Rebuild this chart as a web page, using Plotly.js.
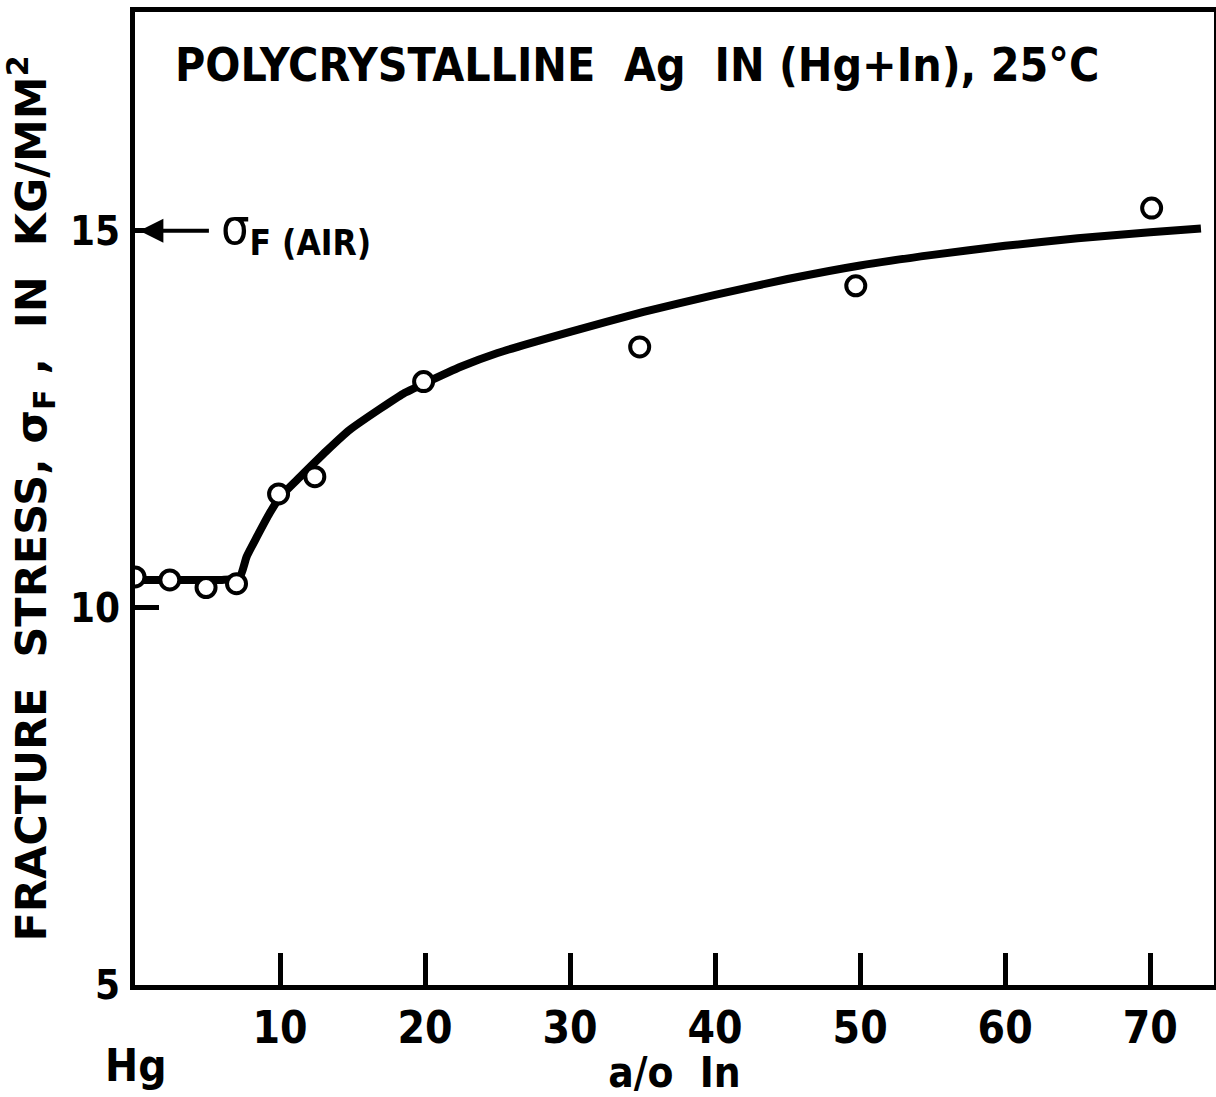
<!DOCTYPE html>
<html>
<head>
<meta charset="utf-8">
<script src="https://cdn.plot.ly/plotly-3.0.1.min.js"></script>
<style>html,body{margin:0;padding:0;background:#fff;}#chart{width:1216px;height:1097px;}</style>
</head>
<body>
<div id="chart"></div>
<script>
// Measured points: a/o In vs fracture stress (kg/mm^2)
const pointX = [0, 2.4, 4.9, 7.0, 9.9, 12.4, 19.9, 34.8, 49.7, 70.1];
const pointY = [10.41, 10.37, 10.27, 10.32, 11.51, 11.74, 13.0, 13.46, 14.27, 15.30];

// Drawn trend curve
const curveX = [0, 3, 6, 7.2, 7.7, 8.4, 9.3, 10.0, 11.4, 13.2, 14.8, 16.9, 18.5, 20, 22.5, 25, 30, 35, 40, 45, 50, 55, 60, 65, 70, 73.5];
const curveY = [10.37, 10.37, 10.37, 10.40, 10.68, 10.94, 11.26, 11.47, 11.74, 12.08, 12.36, 12.64, 12.84, 12.98, 13.20, 13.38, 13.66, 13.92, 14.15, 14.36, 14.54, 14.68, 14.80, 14.90, 14.98, 15.03];

const xTicks = [10, 20, 30, 40, 50, 60, 70];
const yTicks = [5, 10, 15];

const FONT = '"DejaVu Sans Condensed", "Liberation Sans Narrow", Arial, sans-serif';
const WIDE = '"DejaVu Sans", Arial, sans-serif';

const traces = [
  {x: curveX, y: curveY, mode: 'lines', type: 'scatter',
   line: {color: '#000', width: 8, shape: 'spline', smoothing: 0.5}, hoverinfo: 'skip'},
  {x: pointX, y: pointY, mode: 'markers', type: 'scatter',
   marker: {symbol: 'circle', size: 19, color: '#fff', line: {color: '#000', width: 4}}}
];

const layout = {
  width: 1216, height: 1097,
  margin: {l: 135, r: 2, t: 12, b: 112},
  paper_bgcolor: '#fff', plot_bgcolor: '#fff',
  showlegend: false,
  font: {family: FONT, color: '#000'},
  title: {text: 'POLYCRYSTALLINE  Ag  IN (Hg+In), 25°C', x: 0.524, xanchor: 'center',
          y: 1 - 65/1097, yanchor: 'middle', yref: 'container',
          font: {family: FONT, size: 46, weight: 'bold', color: '#000'}},
  xaxis: {range: [0, 74.4], showgrid: false, zeroline: false,
          showline: true, mirror: true, linecolor: '#000', linewidth: 5,
          tickvals: xTicks, ticktext: xTicks.map(String),
          ticks: 'inside', ticklen: 32, tickwidth: 5, tickcolor: '#000',
          ticklabelstandoff: 0,
          tickfont: {family: FONT, size: 44, weight: 'bold', color: '#000'},
          title: {text: 'a/o  In', standoff: 8, font: {family: FONT, size: 42, weight: 'bold', color: '#000'}}},
  yaxis: {range: [5, 17.9], showgrid: false, zeroline: false,
          showline: true, mirror: true, linecolor: '#000', linewidth: 5,
          tickvals: yTicks, ticktext: yTicks.map(String),
          ticks: 'inside', ticklen: 24, tickwidth: 5, tickcolor: '#000',
          ticklabelstandoff: 2,
          tickfont: {family: FONT, size: 40, weight: 'bold', color: '#000'},
          title: {text: 'FRACTURE  STRESS, σ<sub>F</sub> ,  IN  KG/MM<sup>2</sup>', standoff: 12,
                  font: {family: WIDE, size: 43, weight: 'bold', color: '#000'}}},
  annotations: [
    {x: 0.3, y: 15, xref: 'x', yref: 'y', ax: 5.2, ay: 15, axref: 'x', ayref: 'y',
     text: '', showarrow: true, arrowhead: 2, arrowsize: 1.2, arrowwidth: 4, arrowcolor: '#000'},
    {x: 5.8, y: 15, xref: 'x', yref: 'y', xanchor: 'left', yanchor: 'middle',
     text: 'σ<sub><b>F (AIR)</b></sub>', showarrow: false,
     font: {family: FONT, size: 50, color: '#000'}},
    {x: 0, y: 0, xref: 'x', yref: 'paper', xanchor: 'center', yanchor: 'middle', yshift: -80,
     text: '<b>Hg</b>', showarrow: false, font: {family: FONT, size: 44, color: '#000'}}
  ]
};

Plotly.newPlot('chart', traces, layout, {displayModeBar: false, staticPlot: true});
</script>
</body>
</html>
